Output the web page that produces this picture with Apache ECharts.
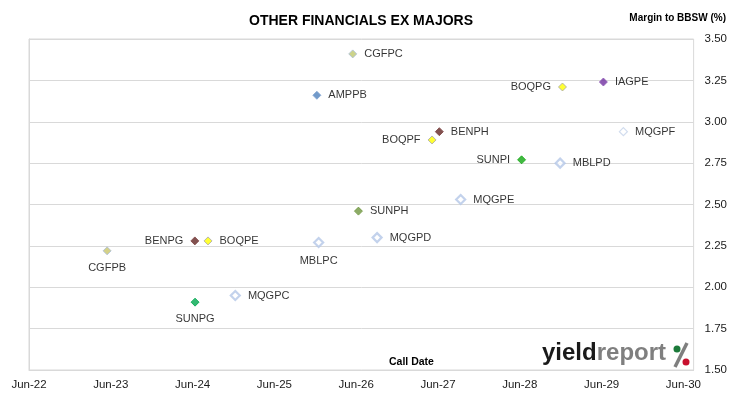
<!DOCTYPE html>
<html>
<head>
<meta charset="utf-8">
<script src="https://cdn.jsdelivr.net/npm/echarts@6/dist/echarts.min.js"></script>
<style>
  html, body { margin: 0; padding: 0; background: #fff; }
  #chart { width: 730px; height: 399px; }
</style>
</head>
<body>
<div id="chart"></div>
<script>
// bond codes, call dates and margins
var codes = ['CGFPC', 'AMPPB', 'BOQPG', 'IAGPE', 'BENPH', 'BOQPF', 'MQGPF', 'SUNPI', 'MBLPD',
             'MQGPE', 'SUNPH', 'MQGPD', 'BENPG', 'BOQPE', 'MBLPC', 'CGFPB', 'MQGPC', 'SUNPG'];
var callDates = ['2026-05-16', '2025-12-08', '2028-12-09', '2029-06-09', '2027-06-07', '2027-05-05',
                 '2029-09-07', '2028-06-09', '2028-11-29', '2027-09-11', '2026-06-11', '2026-09-03',
                 '2024-06-11', '2024-08-09', '2025-12-16', '2023-05-15', '2024-12-09', '2024-06-12'];
var margins = [3.41, 3.16, 3.21, 3.24, 2.94, 2.89, 2.94, 2.77, 2.75,
               2.53, 2.46, 2.30, 2.28, 2.28, 2.27, 2.22, 1.95, 1.91];
var yearLabels = ['Jun-22', 'Jun-23', 'Jun-24', 'Jun-25', 'Jun-26', 'Jun-27', 'Jun-28', 'Jun-29', 'Jun-30'];

// marker look per bond
var markerStyle = {
    CGFPC: { color: '#bfc86e', borderColor: '#a9bcd9', borderWidth: 1 },
    CGFPB: { color: '#c9c56a', borderColor: '#a9bcd9', borderWidth: 1 },
    AMPPB: { color: '#4f81bd', borderColor: '#7fa2d0', borderWidth: 1 },
    BOQPG: { color: '#ffff00', borderColor: '#a6a6a6', borderWidth: 1 },
    BOQPF: { color: '#ffff00', borderColor: '#a6a6a6', borderWidth: 1 },
    BOQPE: { color: '#ffff00', borderColor: '#a6a6a6', borderWidth: 1 },
    IAGPE: { color: '#7030a0', borderColor: '#8e5bb5', borderWidth: 1 },
    BENPH: { color: '#632523', borderColor: '#7d4442', borderWidth: 1 },
    BENPG: { color: '#632523', borderColor: '#7d4442', borderWidth: 1 },
    SUNPI: { color: '#11a811', borderColor: '#11a811', borderWidth: 1 },
    SUNPG: { color: '#00a84f', borderColor: '#00a84f', borderWidth: 1 },
    SUNPH: { color: '#6f9640', borderColor: '#6f9640', borderWidth: 1 },
    MQGPF: { color: '#ffffff', borderColor: '#c5d3ea', borderWidth: 1.2 },
    MBLPD: { color: '#ffffff', borderColor: '#b4c7e7', borderWidth: 2.2 },
    MQGPE: { color: '#ffffff', borderColor: '#b4c7e7', borderWidth: 2.2 },
    MQGPD: { color: '#ffffff', borderColor: '#b4c7e7', borderWidth: 2.2 },
    MBLPC: { color: '#ffffff', borderColor: '#b4c7e7', borderWidth: 2.2 },
    MQGPC: { color: '#ffffff', borderColor: '#b4c7e7', borderWidth: 2.2 }
};
// which side the code sits on
var labelSide = {
    BOQPG: 'left', BOQPF: 'left', SUNPI: 'left', BENPG: 'left',
    MBLPC: 'bottom', CGFPB: 'bottom', SUNPG: 'bottom'
};

// months after Jun-22
function monthsFromStart(s) {
    var p = s.split('-');
    return (parseInt(p[0]) - 2022) * 12 + (parseInt(p[1]) - 6) + (parseInt(p[2]) - 1) / 30.5;
}

var font = "'Liberation Sans', Arial, sans-serif";

var points = codes.map(function (c, i) {
    var side = labelSide[c] || 'right';
    return {
        name: c,
        value: [monthsFromStart(callDates[i]), margins[i]],
        symbolSize: markerStyle[c].borderWidth > 2 ? 9 : 8,
        itemStyle: markerStyle[c],
        label: { position: side, distance: 7 }
    };
});

var myChart = echarts.init(document.getElementById('chart'));
myChart.setOption({
    backgroundColor: '#ffffff',
    animation: false,
    title: {
        text: 'OTHER FINANCIALS EX MAJORS',
        left: 356,
        textAlign: 'center',
        top: 9,
        textStyle: { fontFamily: font, fontSize: 14, fontWeight: 'bold', color: '#000' }
    },
    grid: {
        left: 29, right: 36, top: 39, bottom: 29,
        show: true, borderColor: '#d9d9d9', borderWidth: 1
    },
    xAxis: {
        type: 'value',
        min: 0,
        max: 97.5,
        interval: 12,
        axisLine: { show: true, lineStyle: { color: '#d9d9d9' } },
        axisTick: { show: false },
        splitLine: { show: false },
        axisLabel: {
            showMaxLabel: false,
            margin: 9,
            fontFamily: font, fontSize: 11.5, color: '#1a1a1a',
            formatter: function (v) {
                if (v % 12 !== 0) return '';
                return yearLabels[v / 12] || '';
            }
        }
    },
    yAxis: {
        type: 'value',
        position: 'right',
        min: 1.5,
        max: 3.5,
        interval: 0.25,
        axisLine: { show: true, lineStyle: { color: '#d9d9d9' } },
        axisTick: { show: true, length: 4, lineStyle: { color: '#d9d9d9' } },
        splitLine: { lineStyle: { color: '#d9d9d9' } },
        axisLabel: {
            margin: 11,
            fontFamily: font, fontSize: 11.5, color: '#1a1a1a',
            formatter: function (v) { return v.toFixed(2); }
        }
    },
    graphic: [
        {
            type: 'text', right: 4, top: 13,
            style: { text: 'Margin to BBSW (%)', font: 'bold 10px ' + font, fill: '#000' }
        },
        {
            type: 'text', left: 389, top: 357,
            style: { text: 'Call Date', font: 'bold 10.5px ' + font, fill: '#000' }
        },
        {
            type: 'text', left: 542, top: 341,
            style: {
                text: '{a|yield}{b|report}',
                rich: {
                    a: { font: 'bold 24px ' + font, fill: '#1a1a1a' },
                    b: { font: 'bold 24px ' + font, fill: '#7f7f7f' }
                }
            }
        },
        { type: 'line', shape: { x1: 687, y1: 343, x2: 675, y2: 367 }, style: { stroke: '#7f7f7f', lineWidth: 3.5 } },
        { type: 'circle', shape: { cx: 677, cy: 349, r: 3.5 }, style: { fill: '#1c7a3a' } },
        { type: 'circle', shape: { cx: 686, cy: 362, r: 3.5 }, style: { fill: '#c8102e' } }
    ],
    series: [{
        type: 'scatter',
        symbol: 'diamond',
        data: points,
        label: {
            show: true,
            formatter: '{b}',
            fontFamily: font, fontSize: 11, color: '#000'
        },
        emphasis: { disabled: true }
    }]
});

window.addEventListener('resize', function () {
    myChart.resize();
});
</script>
</body>
</html>
